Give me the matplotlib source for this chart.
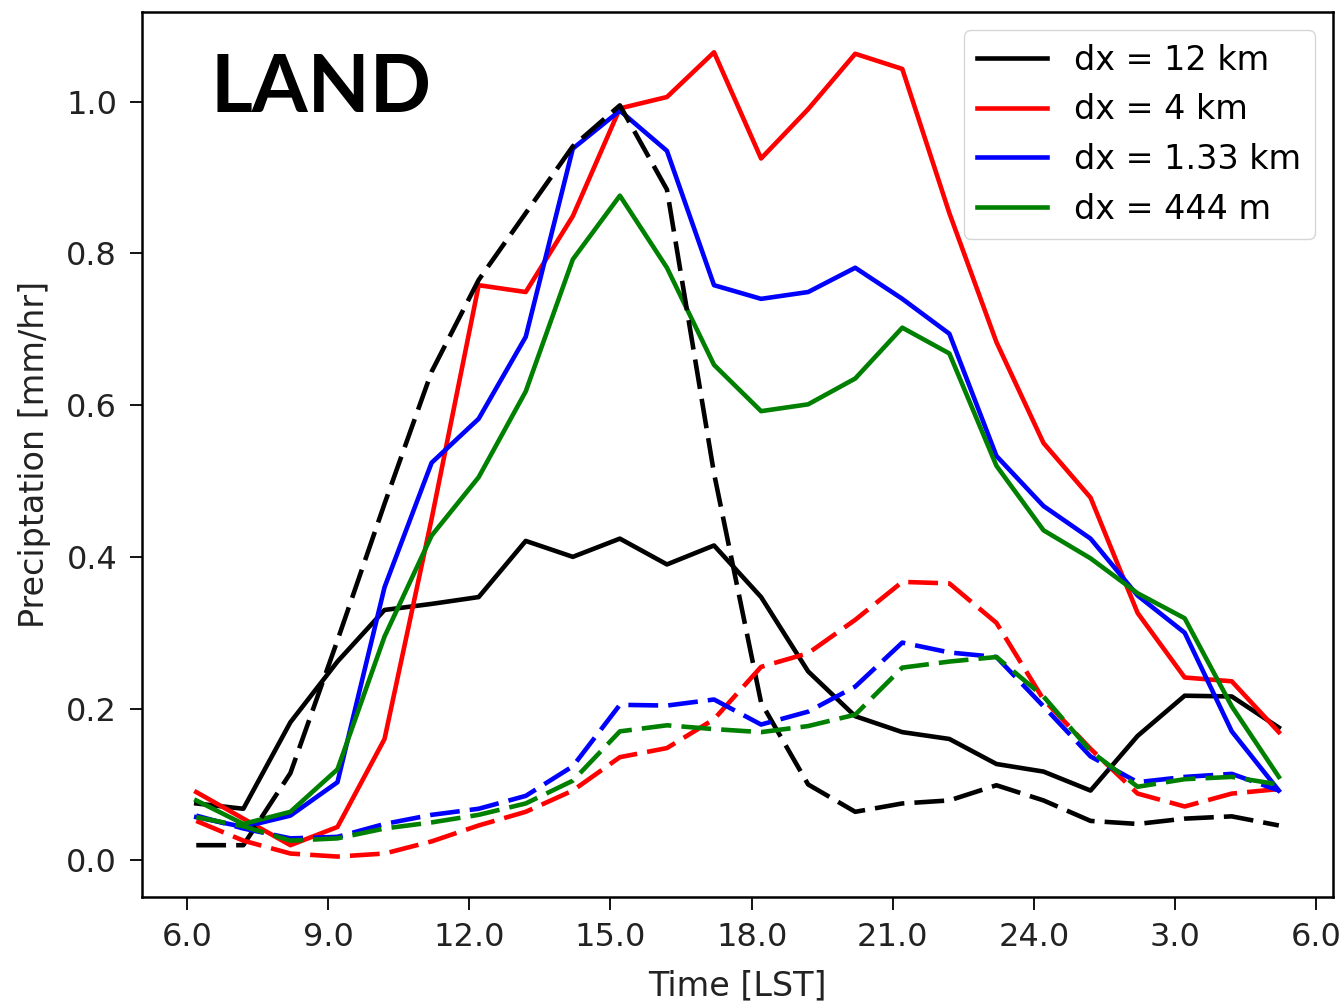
import numpy as np
import matplotlib
matplotlib.use('Agg')
import matplotlib.pyplot as plt
import matplotlib as mpl

mpl.rcParams['font.size'] = 24

# hourly times (LST, continuing past midnight as 24+)
hours = 6.2 + np.arange(24)
tick_pos = [6, 9, 12, 15, 18, 21, 24, 27, 30]
tick_lab = ['6.0', '9.0', '12.0', '15.0', '18.0', '21.0', '24.0', '3.0', '6.0']

# solid lines
p12 = [0.075, 0.068, 0.182, 0.262, 0.330, 0.338, 0.347, 0.421, 0.400, 0.424, 0.390, 0.415,
       0.347, 0.249, 0.190, 0.169, 0.160, 0.127, 0.117, 0.092, 0.164, 0.217, 0.216, 0.175]
p4 = [0.090, 0.055, 0.020, 0.044, 0.160, 0.450, 0.758, 0.749, 0.849, 0.991, 1.006, 1.065,
      0.925, 0.990, 1.063, 1.043, 0.853, 0.683, 0.550, 0.478, 0.326, 0.241, 0.236, 0.169]
p133 = [0.057, 0.044, 0.059, 0.103, 0.360, 0.524, 0.582, 0.690, 0.938, 0.988, 0.935, 0.758,
        0.740, 0.749, 0.781, 0.740, 0.694, 0.533, 0.467, 0.424, 0.349, 0.300, 0.170, 0.092]
p444 = [0.079, 0.048, 0.064, 0.120, 0.295, 0.428, 0.505, 0.618, 0.792, 0.876, 0.781, 0.653,
        0.592, 0.601, 0.635, 0.702, 0.668, 0.520, 0.435, 0.398, 0.352, 0.319, 0.203, 0.110]

# dashed lines
d12 = [0.020, 0.020, 0.115, 0.290, 0.470, 0.644, 0.765, 0.853, 0.941, 0.995, 0.884, 0.510,
       0.208, 0.100, 0.064, 0.075, 0.079, 0.099, 0.079, 0.052, 0.048, 0.055, 0.058, 0.046]
d4 = [0.052, 0.026, 0.009, 0.005, 0.009, 0.025, 0.046, 0.064, 0.092, 0.136, 0.148, 0.186,
      0.255, 0.273, 0.317, 0.367, 0.365, 0.313, 0.212, 0.147, 0.088, 0.071, 0.088, 0.094]
d133 = [0.059, 0.042, 0.029, 0.031, 0.048, 0.060, 0.068, 0.085, 0.124, 0.205, 0.204, 0.212,
        0.179, 0.196, 0.229, 0.287, 0.274, 0.268, 0.203, 0.137, 0.103, 0.110, 0.114, 0.092]
d444 = [0.057, 0.045, 0.026, 0.029, 0.042, 0.050, 0.060, 0.075, 0.105, 0.170, 0.178, 0.173,
        0.169, 0.177, 0.192, 0.254, 0.262, 0.268, 0.216, 0.144, 0.097, 0.107, 0.110, 0.100]

fig = plt.figure(figsize=(13.41, 10.02), dpi=100)
ax = fig.add_axes([0.106, 0.105, 0.888, 0.883])

lw = 3.3
ax.plot(hours, p12, color='black', lw=lw, label='dx = 12 km')
ax.plot(hours, p4, color='red', lw=lw, label='dx = 4 km')
ax.plot(hours, p133, color='blue', lw=lw, label='dx = 1.33 km')
ax.plot(hours, p444, color='green', lw=lw, label='dx = 444 m')

dash = (6.5, 2.2)
ax.plot(hours, d12, color='black', lw=lw, dashes=dash)
ax.plot(hours, d4, color='red', lw=lw, dashes=dash)
ax.plot(hours, d133, color='blue', lw=lw, dashes=dash)
ax.plot(hours, d444, color='green', lw=lw, dashes=dash)

ax.set_xticks(tick_pos)
ax.set_xticklabels(tick_lab)
ax.set_yticks([0.0, 0.2, 0.4, 0.6, 0.8, 1.0])
ax.tick_params(labelsize=23, length=9, width=1.3, pad=9, labelcolor='#222222')
for s in ax.spines.values():
    s.set_linewidth(1.8)

ax.set_xlabel('Time [LST]', color='#222222', labelpad=12)
ax.set_ylabel('Preciptation [mm/hr]', color='#222222', labelpad=11)

ax.legend(loc='upper right', fontsize=24, handlelength=2.1, labelspacing=0.5,
          borderaxespad=0.55)

ax.text(0.057, 0.887, 'LAND', transform=ax.transAxes, fontsize=58,
        fontweight='bold', family='Lato', ha='left', va='baseline')

fig.savefig('out.png', dpi=100)
